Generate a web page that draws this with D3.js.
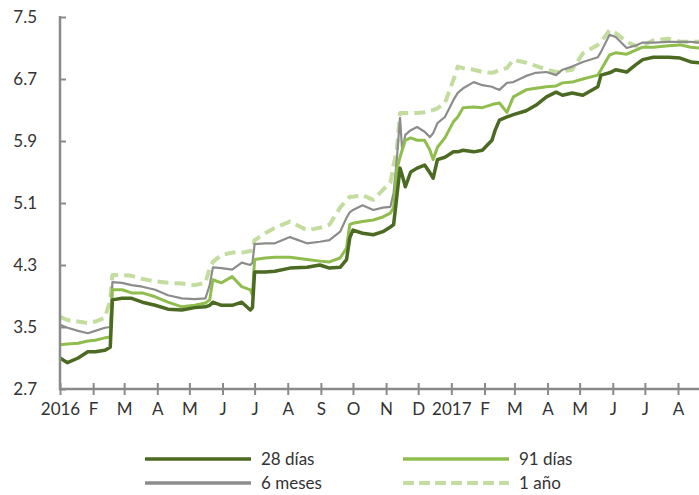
<!DOCTYPE html>
<html>
<head>
<meta charset="utf-8">
<script src="https://cdn.jsdelivr.net/npm/d3@7"></script>
<style>
  body { margin: 0; background: #fff; }
  svg text { font-family: Lato, "Open Sans", sans-serif; fill: #333; }
</style>
</head>
<body>
<div id="chart"></div>
<script>
  const W = 699, H = 495

  // fechas (aprox. semanales)
  const dates = [
    "2016-01-01","2016-01-08","2016-01-18","2016-01-27","2016-02-03","2016-02-12","2016-02-17","2016-02-19",
    "2016-02-28","2016-03-08","2016-03-18","2016-03-30","2016-04-11","2016-04-24","2016-05-06","2016-05-16",
    "2016-05-20","2016-05-23","2016-05-31","2016-06-10","2016-06-19","2016-06-27","2016-06-29","2016-07-01",
    "2016-07-11","2016-07-20","2016-08-03","2016-08-19","2016-08-31","2016-09-09","2016-09-19","2016-09-25",
    "2016-09-28","2016-10-01","2016-10-10","2016-10-20","2016-10-29","2016-11-05","2016-11-08","2016-11-11",
    "2016-11-14","2016-11-16","2016-11-19","2016-11-24","2016-11-30","2016-12-07","2016-12-12","2016-12-15",
    "2016-12-19","2016-12-26","2017-01-03","2017-01-07","2017-01-12","2017-01-22","2017-01-30","2017-02-08",
    "2017-02-11","2017-02-15","2017-02-22","2017-02-28","2017-03-12","2017-03-21","2017-03-31","2017-04-09",
    "2017-04-15","2017-04-24","2017-05-04","2017-05-18","2017-05-21","2017-05-29","2017-06-04","2017-06-14",
    "2017-06-22","2017-06-29","2017-07-09","2017-07-23","2017-08-03","2017-08-13","2017-08-21"
  ]

  const dias28 = [
    3.10,3.04,3.10,3.18,3.18,3.20,3.24,3.85, 3.87,3.87,3.82,3.78,3.73,3.72,3.75,3.76,
    3.78,3.82,3.78,3.78,3.82,3.72,3.75,4.21, 4.21,4.22,4.26,4.27,4.30,4.26,4.27,4.37,
    4.65,4.75,4.71,4.69,4.73,4.79,4.82,5.18, 5.55,5.46,5.31,5.50,5.55,5.59,5.49,5.42,
    5.66,5.69,5.76,5.76,5.78,5.76,5.78,5.91, 6.04,6.17,6.21,6.24,6.29,6.36,6.47,6.53,
    6.49,6.52,6.49,6.60,6.75,6.78,6.82,6.79, 6.88,6.95,6.98,6.98,6.97,6.92,6.91
  ]
  const dias91 = [
    3.27,3.28,3.29,3.32,3.33,3.36,3.37,3.98, 3.98,3.94,3.94,3.89,3.82,3.76,3.78,3.81,
    3.85,4.11,4.07,4.15,4.02,3.98,3.91,4.37, 4.39,4.40,4.40,4.37,4.35,4.34,4.39,4.52,
    4.82,4.84,4.86,4.88,4.92,4.97,5.04,5.53, 5.69,5.78,5.91,5.94,5.91,5.91,5.78,5.66,
    5.82,5.94,6.15,6.21,6.33,6.34,6.33,6.37, 6.38,6.39,6.27,6.47,6.56,6.58,6.60,6.61,
    6.65,6.66,6.70,6.75,6.82,7.01,7.04,7.02, 7.07,7.11,7.11,7.13,7.14,7.11,7.10
  ]
  const meses6 = [
    3.53,3.49,3.45,3.42,3.45,3.49,3.50,4.08, 4.07,4.04,4.02,3.98,3.91,3.87,3.86,3.87,
    4.04,4.27,4.26,4.24,4.33,4.30,4.33,4.57, 4.58,4.58,4.66,4.58,4.60,4.62,4.73,4.91,
    4.98,5.01,5.07,5.01,5.04,5.05,5.23,5.66, 6.20,5.78,5.98,6.04,6.08,6.02,5.95,6.00,
    6.13,6.21,6.43,6.52,6.58,6.66,6.62,6.60, 6.58,6.56,6.65,6.66,6.74,6.78,6.79,6.75,
    6.82,6.86,6.92,6.98,7.05,7.27,7.24,7.10, 7.13,7.17,7.17,7.18,7.18,7.18,7.17
  ]
  const anio1 = [
    3.63,3.59,3.57,3.55,3.57,3.62,3.85,4.17, 4.17,4.16,4.12,4.09,4.07,4.06,4.04,4.07,
    4.26,4.34,4.43,4.46,4.46,4.48,4.49,4.62, 4.71,4.78,4.86,4.75,4.78,4.82,5.04,5.14,
    5.18,5.18,5.20,5.14,5.27,5.36,5.59,5.78, 6.26,6.26,6.26,6.26,6.26,6.27,6.29,6.30,
    6.32,6.39,6.69,6.86,6.84,6.82,6.79,6.78, 6.79,6.82,6.84,6.95,6.91,6.87,6.82,6.79,
    6.80,6.82,7.03,7.14,7.18,7.33,7.29,7.18, 7.13,7.13,7.20,7.22,7.18,7.18,7.18
  ]

  const yTicks = [2.7, 3.5, 4.3, 5.1, 5.9, 6.7, 7.5]
  const monthLabels = ["2016","F","M","A","M","J","J","A","S","O","N","D","2017","F","M","A","M","J","J","A"]

  const series = [
    {name: "28 días", values: dias28, color: "#4b6a22", width: 3.5, dash: null},
    {name: "91 días", values: dias91, color: "#8fbe4e", width: 3, dash: null},
    {name: "6 meses", values: meses6, color: "#8c8c8c", width: 2.2, dash: null},
    {name: "1 año", values: anio1, color: "#c3dd9f", width: 4, dash: "11,6"}
  ]

  const parse = d3.timeParse("%Y-%m-%d")
  const dd = dates.map(parse)

  const x = d3.scaleTime()
    .domain([new Date(2016, 0, 1), new Date(2017, 7, 1)])
    .range([60, 678])
  const y = d3.scaleLinear().domain([2.7, 7.5]).range([389, 17])

  const svg = d3.select("#chart").append("svg")
    .attr("width", W).attr("height", H)

  // series: the last (1 año) is drawn first so the solid ones sit on top
  const line = d3.line().x((d, i) => x(dd[i])).y(d => y(d))
  const drawOrder = [3, 2, 1, 0]
  drawOrder.forEach(k => {
    const s = series[k]
    svg.append("path")
      .attr("d", line(s.values))
      .attr("fill", "none")
      .attr("stroke", s.color)
      .attr("stroke-width", s.width)
      .attr("stroke-linejoin", "round")
      .attr("stroke-dasharray", s.dash)
  })

  // y axis
  const yAxis = svg.append("g").attr("transform", "translate(60,0)")
    .call(d3.axisRight(y).tickValues(yTicks).tickSize(6).tickFormat(d3.format(".1f")))
  yAxis.select(".domain").remove()
  yAxis.selectAll(".tick line").attr("stroke", "#8a8a8a").attr("stroke-width", 2)
  yAxis.selectAll(".tick text").attr("x", -23).attr("text-anchor", "end")
    .attr("font-size", 17).style("fill", "#333")
  svg.append("line").attr("x1", 60).attr("x2", 60).attr("y1", 16).attr("y2", 390)
    .attr("stroke", "#8a8a8a").attr("stroke-width", 2.5)

  // x axis
  const months = d3.timeMonth.range(new Date(2016, 0, 1), new Date(2017, 7, 2))
  const xAxis = svg.append("g").attr("transform", "translate(0,389)")
    .call(d3.axisBottom(x).tickValues(months).tickSize(6)
      .tickFormat((d, i) => monthLabels[i]))
  xAxis.select(".domain").remove()
  xAxis.selectAll(".tick line").attr("y1", -6).attr("y2", 6)
    .attr("stroke", "#8a8a8a").attr("stroke-width", 2)
  xAxis.selectAll(".tick text").attr("y", 14).attr("font-size", 17).style("fill", "#333")
  svg.append("line").attr("x1", 59).attr("x2", 699).attr("y1", 389).attr("y2", 389)
    .attr("stroke", "#8a8a8a").attr("stroke-width", 2.5)

  // legend
  const legend = svg.append("g")
  const legPos = [[145, 459], [403, 459], [145, 483], [403, 483]]
  series.forEach((s, i) => {
    const [lx, ly] = legPos[i]
    legend.append("line")
      .attr("x1", lx).attr("x2", lx + 106).attr("y1", ly).attr("y2", ly)
      .attr("stroke", s.color)
      .attr("stroke-width", s.dash ? 4 : 3.5)
      .attr("stroke-dasharray", s.dash ? "11,5" : null)
    legend.append("text")
      .attr("x", lx + 116).attr("y", ly)
      .attr("dy", "0.35em")
      .attr("font-size", 17)
      .text(s.name)
  })
</script>
</body>
</html>
